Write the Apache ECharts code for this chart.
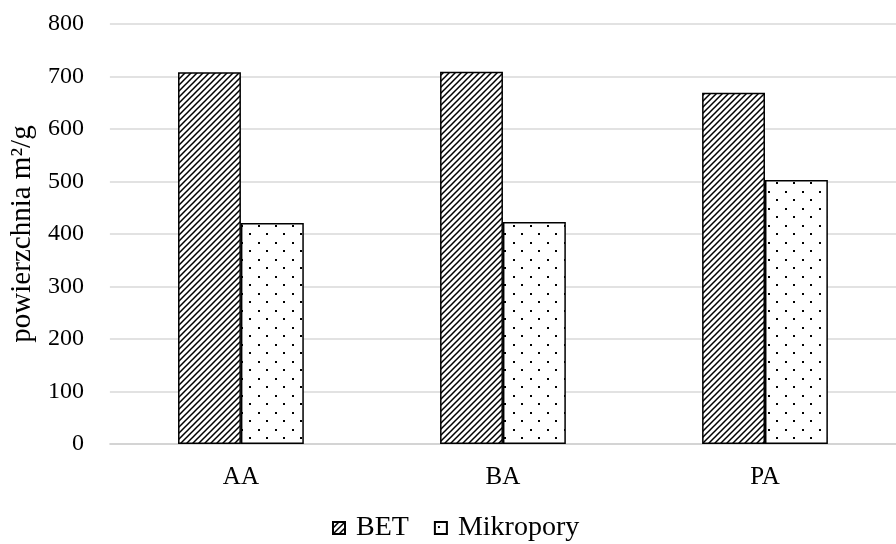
<!DOCTYPE html>
<html>
<head>
<meta charset="utf-8">
<script src="https://cdn.jsdelivr.net/npm/echarts@6/dist/echarts.min.js"></script>
<style>html,body{margin:0;padding:0;background:#fff}#c{width:896px;height:544px}</style>
</head>
<body>
<div id="c"></div>
<script>
const categories = ['AA', 'BA', 'PA'];
const betValues = [708, 709, 669];
const mikroValues = [421, 423, 503];
const seriesNames = ['BET', 'Mikropory'];
const yTicks = { min: 0, max: 800, interval: 100 };
const yAxisName = 'powierzchnia m²/g';

function hatchPattern() {
  const s = 6;
  const c = document.createElement('canvas');
  c.width = s; c.height = s;
  const g = c.getContext('2d');
  g.fillStyle = '#fff'; g.fillRect(0, 0, s, s);
  g.strokeStyle = '#000'; g.lineWidth = 1.5;
  g.beginPath();
  g.moveTo(-1, s + 1); g.lineTo(s + 1, -1);
  g.moveTo(-1 - s, s + 1); g.lineTo(1, -1);
  g.moveTo(s - 1, s + 1); g.lineTo(2 * s + 1, -1);
  g.stroke();
  return c;
}
function dotPattern() {
  const w = 17, h = 17;
  const c = document.createElement('canvas');
  c.width = w; c.height = h;
  const g = c.getContext('2d');
  g.fillStyle = '#fff'; g.fillRect(0, 0, w, h);
  g.fillStyle = '#000';
  g.fillRect(3, 4, 2, 2);
  g.fillRect(11, 12, 2, 2);
  return c;
}

const chart = echarts.init(document.getElementById('c'), null, { renderer: 'canvas' });
const font = 'Liberation Serif';
chart.setOption({
  animation: false,
  backgroundColor: '#fff',
  textStyle: { fontFamily: font },
  grid: { left: 109, top: 24, width: 798, height: 420, containLabel: false },
  legend: {
    top: 509,
    left: 327,
    icon: 'rect',
    itemWidth: 12,
    itemHeight: 12,
    itemGap: 25,
    textStyle: { fontFamily: font, fontSize: 28, color: '#000', padding: [0, 0, 0, 6] },
    data: seriesNames
  },
  xAxis: {
    type: 'category',
    data: categories,
    axisLine: { lineStyle: { color: '#d0d0d0', width: 1.5 } },
    axisTick: { show: false },
    axisLabel: { fontFamily: font, fontSize: 25, color: '#000', margin: 21 }
  },
  yAxis: {
    type: 'value',
    min: yTicks.min, max: yTicks.max, interval: yTicks.interval,
    name: yAxisName,
    nameLocation: 'middle',
    nameGap: 71,
    nameTextStyle: { fontFamily: font, fontSize: 29, color: '#000' },
    axisLine: { show: false },
    axisTick: { show: false },
    axisLabel: { fontFamily: font, fontSize: 24, color: '#000', margin: 26 },
    splitLine: { lineStyle: { color: '#d9d9d9', width: 1.5 } }
  },
  series: [
    {
      name: seriesNames[0], type: 'bar', data: betValues,
      barGap: '0%', barCategoryGap: '52%',
      itemStyle: { color: { image: hatchPattern(), repeat: 'repeat' }, borderColor: '#000', borderWidth: 1.5 }
    },
    {
      name: seriesNames[1], type: 'bar', data: mikroValues,
      itemStyle: { color: { image: dotPattern(), repeat: 'repeat' }, borderColor: '#000', borderWidth: 1.5 }
    }
  ]
});
</script>
</body>
</html>
